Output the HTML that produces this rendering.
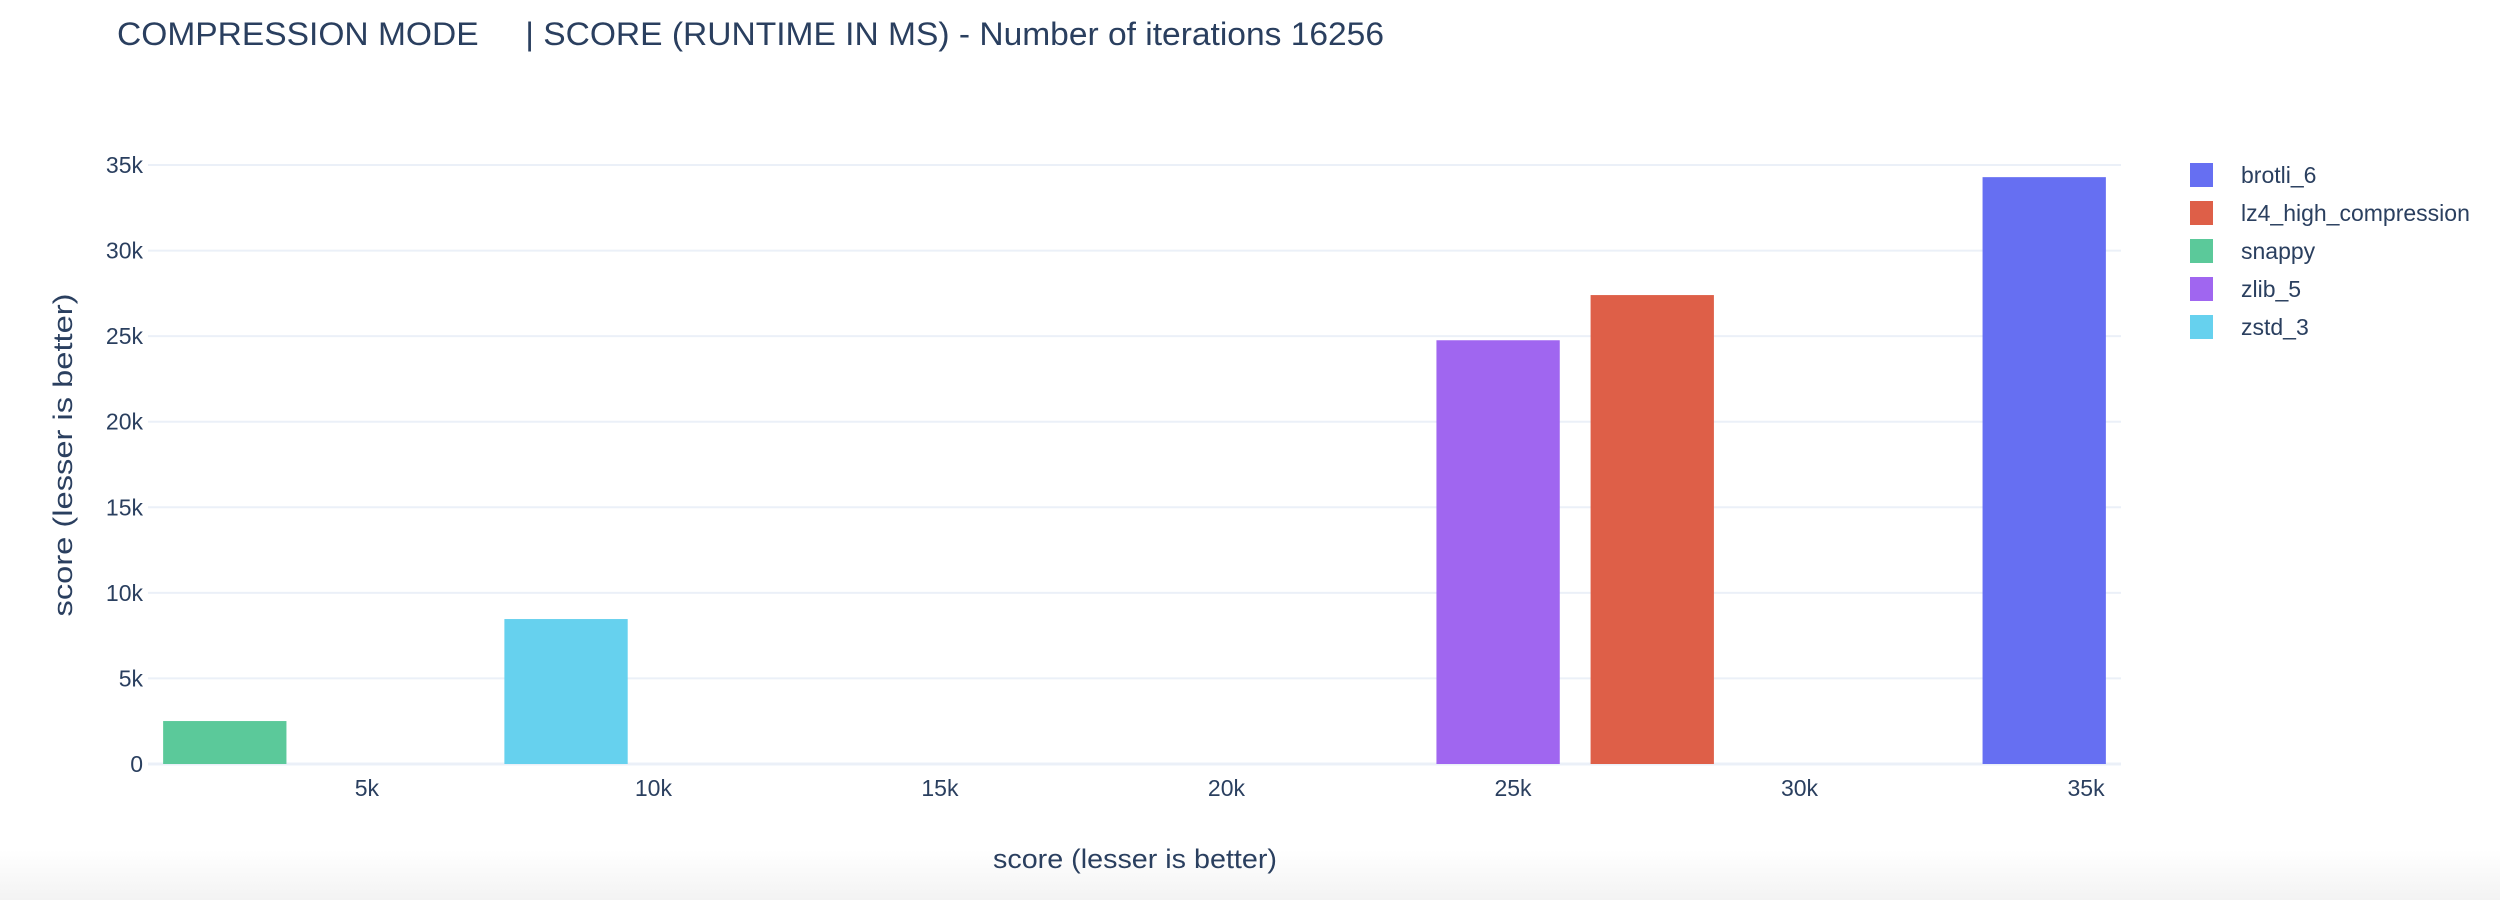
<!DOCTYPE html>
<html><head><meta charset="utf-8"><style>
html,body{margin:0;padding:0;background:#fff;}
svg{display:block;font-family:"Liberation Sans",sans-serif;}
</style></head><body>
<svg id="chart" width="2500" height="900" xmlns="http://www.w3.org/2000/svg">
<defs><linearGradient id="bg" x1="0" y1="0" x2="0" y2="1"><stop offset="0" stop-color="#fff"/><stop offset="1" stop-color="#f3f3f3"/></linearGradient></defs>
<rect x="0" y="850" width="2500" height="50" fill="url(#bg)"/>
<text x="117" y="45" font-size="32" fill="#2a3f5f" textLength="1267" lengthAdjust="spacingAndGlyphs" xml:space="preserve">COMPRESSION MODE     | SCORE (RUNTIME IN MS) - Number of iterations 16256</text>
<g id="grid"></g>
<g id="bars"></g>
<g id="xticks"></g>
<g id="yticks"></g>
<text x="1135" y="868" font-size="27" fill="#2a3f5f" text-anchor="middle" textLength="284" lengthAdjust="spacingAndGlyphs">score (lesser is better)</text>
<text transform="translate(72,455) rotate(-90)" font-size="27" fill="#2a3f5f" text-anchor="middle" textLength="323" lengthAdjust="spacingAndGlyphs">score (lesser is better)</text>
<g id="legend"></g>
</svg>
<script>
const categories = ["brotli_6","lz4_high_compression","snappy","zlib_5","zstd_3"];
const xValues = [34270, 27430, 2520, 24740, 8475];
const yValues = [34290, 27400, 2510, 24760, 8470];
const colors = ["#666ff2","#de5f48","#5bc99a","#a066f0","#66d1ee"];
const xTickVals = [5000,10000,15000,20000,25000,30000,35000];
const xTickLabels = ["5k","10k","15k","20k","25k","30k","35k"];
const yTickVals = [0,5000,10000,15000,20000,25000,30000,35000];
const yTickLabels = ["0","5k","10k","15k","20k","25k","30k","35k"];

const NS="http://www.w3.org/2000/svg";
const L=148,R=2121,T=148,B=764;
const xMin=1180,xMax=35610,yMin=0,yMax=37000;
const y0px=764, y35px=165;
function X(v){return L+(v-xMin)/(xMax-xMin)*(R-L);}
function Y(v){return y0px-(v-yMin)/35000*(y0px-y35px);}
function mk(tag,attrs,parent){const e=document.createElementNS(NS,tag);for(const k in attrs)e.setAttribute(k,attrs[k]);parent.appendChild(e);return e;}

const grid=document.getElementById('grid');
yTickVals.forEach((v,i)=>{
  const ln=mk('line',{x1:L,x2:R,y1:Y(v),y2:Y(v),stroke:'#ebf0f8','stroke-width':v===0?3:2},grid);
  
  
  const t=mk('text',{x:L-5,y:Y(v)+8,'font-size':23,fill:'#2a3f5f','text-anchor':'end'},document.getElementById('yticks'));
  t.textContent=yTickLabels[i];
  
  
});
xTickVals.forEach((v,i)=>{
  const t=mk('text',{x:X(v),y:796,'font-size':23,fill:'#2a3f5f','text-anchor':'middle'},document.getElementById('xticks'));
  t.textContent=xTickLabels[i];
  
  
});
const sorted=[...xValues].sort((a,b)=>a-b);
let minGap=Infinity;for(let i=1;i<sorted.length;i++)minGap=Math.min(minGap,sorted[i]-sorted[i-1]);
const bw=0.8*minGap;
const bars=document.getElementById('bars');
categories.forEach((c,i)=>{
  const x1=X(xValues[i]-bw/2),x2=X(xValues[i]+bw/2);
  const r=mk('rect',{x:x1,y:Y(yValues[i]),width:x2-x1,height:Y(0)-Y(yValues[i]),fill:colors[i]},bars);
  
  
});
const lg=document.getElementById('legend');
categories.forEach((c,i)=>{
  const cy=175+i*38;
  const g=mk('g',{},lg);
  
  
  mk('rect',{x:2190,y:cy-12,width:23,height:24,fill:colors[i]},g);
  const t=mk('text',{x:2241,y:cy+8,'font-size':23,fill:'#2a3f5f'},g);
  t.textContent=c;
});
</script>
</body></html>
